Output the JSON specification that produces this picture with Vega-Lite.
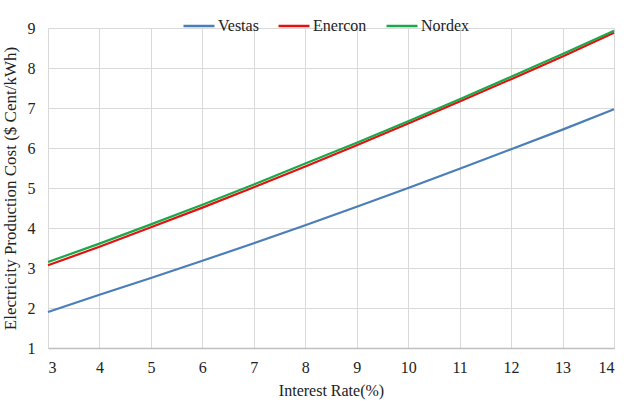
{
  "$schema": "https://vega.github.io/schema/vega-lite/v6.json",
  "width": 566,
  "height": 320,
  "autosize": {"type": "none"},
  "padding": {"left": 48, "top": 28, "right": 26, "bottom": 58},
  "background": "white",
  "config": {
    "font": "Liberation Serif",
    "view": {"stroke": null},
    "axis": {
      "titleFontWeight": "normal",
      "labelColor": "#222",
      "titleColor": "#222",
      "gridColor": "#d9d9d9",
      "gridWidth": 1,
      "ticks": false
    }
  },
  "data": {
    "values": [
      {"rate": 3, "maker": "Vestas", "cost": 1.9},
      {"rate": 4, "maker": "Vestas", "cost": 2.33},
      {"rate": 5, "maker": "Vestas", "cost": 2.75},
      {"rate": 6, "maker": "Vestas", "cost": 3.18},
      {"rate": 7, "maker": "Vestas", "cost": 3.62},
      {"rate": 8, "maker": "Vestas", "cost": 4.07},
      {"rate": 9, "maker": "Vestas", "cost": 4.53},
      {"rate": 10, "maker": "Vestas", "cost": 5.0},
      {"rate": 11, "maker": "Vestas", "cost": 5.48},
      {"rate": 12, "maker": "Vestas", "cost": 5.97},
      {"rate": 13, "maker": "Vestas", "cost": 6.46},
      {"rate": 14, "maker": "Vestas", "cost": 6.97},
      {"rate": 3, "maker": "Enercon", "cost": 3.07},
      {"rate": 4, "maker": "Enercon", "cost": 3.53},
      {"rate": 5, "maker": "Enercon", "cost": 4.02},
      {"rate": 6, "maker": "Enercon", "cost": 4.51},
      {"rate": 7, "maker": "Enercon", "cost": 5.02},
      {"rate": 8, "maker": "Enercon", "cost": 5.54},
      {"rate": 9, "maker": "Enercon", "cost": 6.07},
      {"rate": 10, "maker": "Enercon", "cost": 6.61},
      {"rate": 11, "maker": "Enercon", "cost": 7.16},
      {"rate": 12, "maker": "Enercon", "cost": 7.72},
      {"rate": 13, "maker": "Enercon", "cost": 8.29},
      {"rate": 14, "maker": "Enercon", "cost": 8.88},
      {"rate": 3, "maker": "Nordex", "cost": 3.15},
      {"rate": 4, "maker": "Nordex", "cost": 3.61},
      {"rate": 5, "maker": "Nordex", "cost": 4.09},
      {"rate": 6, "maker": "Nordex", "cost": 4.58},
      {"rate": 7, "maker": "Nordex", "cost": 5.09},
      {"rate": 8, "maker": "Nordex", "cost": 5.61},
      {"rate": 9, "maker": "Nordex", "cost": 6.13},
      {"rate": 10, "maker": "Nordex", "cost": 6.67},
      {"rate": 11, "maker": "Nordex", "cost": 7.22},
      {"rate": 12, "maker": "Nordex", "cost": 7.78},
      {"rate": 13, "maker": "Nordex", "cost": 8.35},
      {"rate": 14, "maker": "Nordex", "cost": 8.93}
    ]
  },
  "mark": {"type": "line", "strokeWidth": 2.2},
  "encoding": {
    "x": {
      "field": "rate",
      "type": "quantitative",
      "scale": {"domain": [3, 14], "nice": false},
      "axis": {
        "title": "Interest Rate(%)",
        "values": [3, 4, 5, 6, 7, 8, 9, 10, 11, 12, 13, 14],
        "labelFont": "Liberation Serif",
        "labelFontSize": 16,
        "titleFont": "Liberation Serif",
        "titleFontSize": 16,
        "labelPadding": 11,
        "titlePadding": 7,
        "domain": true,
        "domainColor": "#bfbfbf",
        "domainWidth": 1.5
      }
    },
    "y": {
      "field": "cost",
      "type": "quantitative",
      "scale": {"domain": [1, 9], "nice": false, "zero": false},
      "axis": {
        "title": "Electricity Production Cost  ($ Cent/kWh)",
        "labelFont": "Liberation Serif",
        "labelFontSize": 16,
        "titleFont": "Liberation Serif",
        "titleFontSize": 17,
        "values": [1, 2, 3, 4, 5, 6, 7, 8, 9],
        "labelPadding": 13,
        "titlePadding": 8,
        "domain": false
      }
    },
    "color": {
      "field": "maker",
      "type": "nominal",
      "sort": ["Vestas", "Enercon", "Nordex"],
      "scale": {"domain": ["Vestas", "Enercon", "Nordex"], "range": ["#4a7ebb", "#e2120f", "#1aa84a"]},
      "legend": {
        "title": null,
        "orient": "none",
        "direction": "horizontal",
        "legendX": 134,
        "legendY": -19,
        "symbolType": "stroke",
        "symbolStrokeWidth": 2.5,
        "symbolSize": 961,
        "labelFont": "Liberation Serif",
        "labelFontSize": 16,
        "labelColor": "#222",
        "columnPadding": 14,
        "labelOffset": 2
      }
    }
  }
}
